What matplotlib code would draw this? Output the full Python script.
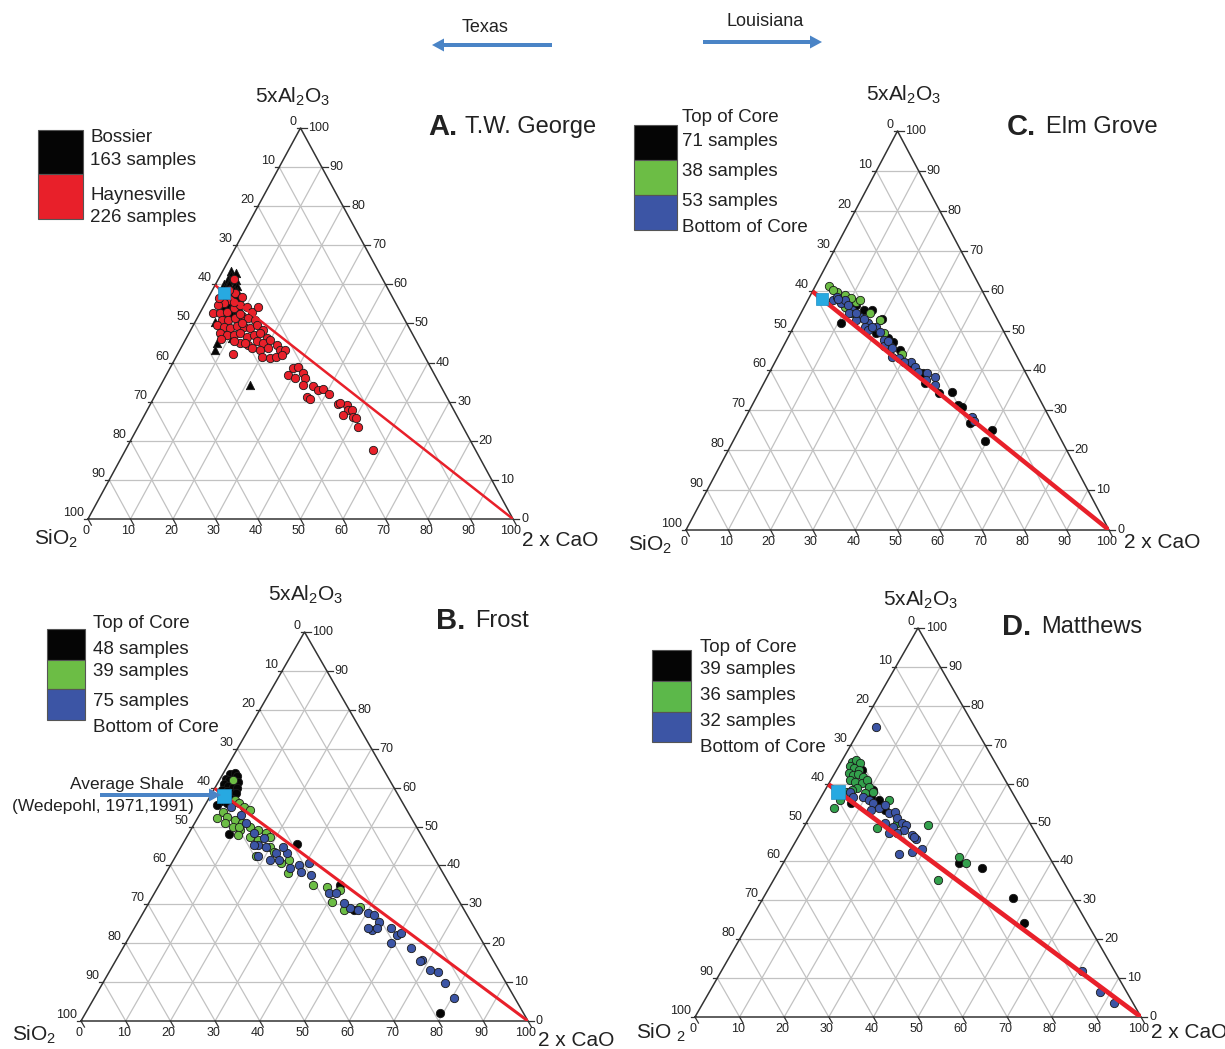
import numpy as np
import matplotlib.pyplot as plt
from matplotlib.patches import Rectangle, FancyArrow

plt.rcParams['font.family'] = ['Liberation Sans', 'DejaVu Sans']
plt.rcParams['mathtext.default'] = 'regular'

# every point is (2xCaO, 5xAl2O3) in normalised percent, SiO2 is the rest
avg_shale = (3.2, 57.8)
mix_line_cao = [0, 100]
mix_line_al = [59.8, 0]

# A. T.W. George
tw_bossier = [(2.0, 63.5), (2.5, 62.5), (3.5, 62.8), (2.2, 61.5), (3.0, 61.0), (4.2, 61.2), (2.0, 60.2),
              (3.2, 60.0), (4.5, 60.0), (5.2, 59.5), (2.6, 59.0), (3.8, 58.8), (5.0, 58.5), (6.0, 58.3),
              (3.0, 57.8), (4.4, 57.5), (5.6, 57.2), (6.8, 57.0), (3.5, 56.5), (5.0, 56.2), (6.2, 56.0),
              (7.4, 55.8), (4.2, 55.3), (5.8, 55.0), (7.0, 54.8), (8.0, 54.6), (5.0, 54.2), (6.6, 53.8),
              (7.8, 53.5), (8.8, 53.2), (6.0, 53.0), (7.4, 52.6), (8.6, 52.3), (9.5, 52.0), (4.6, 50.5),
              (7.8, 44.9), (8.3, 43.2), (10.7, 46.2), (21.0, 34.3)]
tw_haynesville = [(3.8, 61.3), (5.6, 57.9), (7.7, 56.9), (5.4, 56.0), (4.3, 55.2), (3.3, 54.7), (3.2, 52.6),
                  (4.8, 52.6), (6.1, 53.0), (7.3, 53.9), (8.4, 54.7), (10.2, 54.3), (12.0, 53.0), (13.0, 54.1),
                  (6.0, 50.9), (7.6, 50.9), (8.9, 51.3), (10.3, 51.8), (12.1, 51.3), (13.9, 50.9), (5.5, 49.6),
                  (7.3, 49.2), (9.0, 48.8), (10.3, 49.4), (12.0, 49.2), (13.7, 48.8), (14.9, 49.6), (17.1, 48.3),
                  (7.3, 47.5), (9.1, 47.1), (10.7, 47.1), (12.0, 47.5), (14.0, 46.6), (15.4, 47.1), (16.7, 47.5),
                  (18.9, 46.2), (13.3, 44.9), (15.5, 44.5), (17.0, 45.4), (18.8, 44.9), (19.9, 45.8), (22.2, 44.5),
                  (16.7, 43.7), (18.9, 43.2), (20.6, 43.7), (23.6, 43.2), (24.7, 43.2), (20.1, 41.5), (22.3, 41.1),
                  (23.6, 41.5), (24.6, 41.9), (13.1, 42.2), (4.0, 58.5), (6.5, 55.5), (9.5, 52.5), (11.2, 50.0),
                  (8.2, 46.0), (11.5, 45.5), (14.5, 45.0), (2.5, 56.5), (3.0, 58.0),
                  (28.7, 36.8), (29.1, 38.5), (30.0, 39.0), (32.0, 37.3), (30.7, 36.0), (33.1, 36.0), (33.5, 34.3),
                  (36.1, 33.9), (37.7, 33.0), (38.8, 33.2), (40.6, 32.0), (35.8, 31.3), (36.9, 30.6), (44.2, 29.4),
                  (46.3, 29.2), (47.3, 27.9), (46.8, 26.6), (48.1, 27.9), (49.3, 26.2), (51.8, 23.6), (58.2, 17.6),
                  (44.5, 29.6), (50.1, 25.8)]

# C. Elm Grove
eg_top = [(10.7, 51.8), (14.6, 55.1), (19.5, 52.6), (20.3, 49.3), (23.7, 48.0), (31.4, 41.8), (36.4, 39.3),
          (38.1, 36.8), (45.6, 34.7), (48.7, 31.3), (49.8, 30.9), (53.7, 26.7), (59.4, 22.4), (59.9, 25.1),
          (42.6, 34.3), (19.8, 53.0), (16.4, 55.1), (25.5, 47.0), (28.0, 45.0), (33.0, 41.0), (12.0, 56.5),
          (9.0, 57.5)]
eg_mid = [(3.2, 61.2), (5.8, 59.7), (8.1, 58.9), (11.7, 57.2), (12.4, 57.6), (9.5, 56.0), (22.1, 49.3),
          (28.9, 44.1), (12.2, 54.3), (16.4, 54.3), (4.7, 60.1), (9.9, 58.1), (19.5, 52.6)]
eg_bottom = [(5.9, 57.6), (8.2, 56.8), (8.7, 57.6), (11.8, 55.1), (14.5, 53.5), (17.2, 51.8), (16.7, 51.0),
             (22.9, 47.6), (25.2, 46.0), (26.9, 43.4), (28.9, 43.0), (32.1, 42.2), (33.7, 40.9), (37.3, 39.3),
             (39.6, 38.4), (40.6, 36.3), (53.4, 28.4), (54.4, 27.2), (19.4, 51.0), (23.8, 46.0), (6.4, 58.5),
             (11.3, 54.3), (14.0, 52.6), (18.0, 50.1), (7.0, 58.0), (10.0, 56.5), (13.0, 54.5), (15.5, 53.0),
             (18.5, 51.0), (21.0, 49.5), (24.0, 47.3), (26.0, 45.5), (30.5, 42.0), (35.0, 39.5), (38.0, 37.5)]

# B. Frost
fr_top = [(1.5, 63.5), (2.5, 63.8), (3.5, 63.0), (1.2, 62.3), (2.2, 62.0), (3.3, 61.8), (4.3, 61.5),
          (1.5, 60.8), (2.6, 60.5), (3.8, 60.2), (4.8, 60.0), (2.0, 59.3), (3.2, 59.0), (4.5, 58.7),
          (5.5, 58.5), (2.5, 57.8), (4.0, 57.5), (5.2, 57.0), (3.0, 56.5), (4.6, 56.0), (2.7, 55.5),
          (8.9, 48.2), (25.6, 45.5), (40.5, 35.0), (46.8, 28.5), (79.3, 2.0)]
fr_mid = [(3.0, 62.0), (6.0, 56.8), (7.3, 56.0), (9.0, 55.1), (10.8, 54.2), (4.4, 52.1), (4.8, 53.8),
          (6.4, 52.5), (8.5, 51.7), (10.7, 50.8), (12.9, 50.0), (15.1, 49.1), (17.3, 48.3), (6.8, 50.8),
          (9.0, 50.0), (11.1, 49.1), (14.2, 47.4), (16.4, 46.5), (18.6, 47.4), (19.8, 44.8), (21.4, 43.5),
          (10.3, 50.0), (18.1, 42.3), (25.9, 41.4), (27.2, 38.0), (34.4, 35.0), (37.7, 34.5), (41.2, 33.7),
          (40.9, 30.7), (44.6, 28.5), (47.7, 29.4), (24.6, 40.5), (11.3, 47.8)]
fr_bottom = [(6.0, 55.1), (9.2, 53.0), (11.6, 50.8), (14.6, 48.3), (17.0, 45.3), (19.0, 44.8), (22.0, 43.1),
             (23.7, 41.4), (24.6, 43.1), (27.0, 39.3), (28.8, 40.1), (30.7, 40.5), (30.1, 38.4), (32.7, 37.5),
             (39.0, 32.8), (40.7, 32.8), (45.7, 29.0), (47.7, 28.5), (50.3, 27.7), (51.8, 27.3), (54.0, 25.5),
             (53.3, 23.4), (54.4, 23.8), (57.5, 23.8), (59.6, 22.1), (60.3, 22.5), (59.4, 20.0), (64.4, 18.7),
             (68.5, 15.7), (68.3, 15.3), (71.6, 13.1), (73.5, 12.7), (76.6, 9.7), (80.5, 5.8), (21.6, 41.4),
             (18.5, 42.3), (22.9, 44.8), (16.1, 45.3), (17.5, 47.0), (43.7, 30.3), (52.2, 23.8)]

# D. Matthews
mt_top = [(3.8, 65.2), (5.6, 63.5), (8.6, 60.1), (10.8, 58.4), (13.4, 55.8), (11.2, 56.6), (7.6, 54.9),
          (39.5, 39.5), (45.1, 38.4), (56.0, 30.5), (61.7, 24.1), (16.0, 53.2)]
mt_mid = [(2.3, 65.6), (3.0, 66.1), (4.3, 65.2), (2.5, 64.4), (3.8, 63.9), (5.1, 63.5), (3.2, 62.6),
          (4.4, 62.2), (5.4, 62.5), (6.8, 61.8), (4.2, 60.9), (5.7, 60.5), (7.3, 60.1), (8.2, 60.9),
          (9.5, 59.2), (7.0, 58.8), (5.9, 58.4), (4.8, 57.9), (9.4, 57.5), (11.0, 57.9), (4.6, 55.8),
          (4.3, 53.6), (27.5, 49.4), (16.6, 48.5), (38.7, 41.1), (41.0, 39.5), (36.8, 35.2), (20.3, 49.8),
          (15.5, 55.8)]
mt_bottom = [(3.3, 74.6), (5.7, 57.9), (7.2, 56.6), (9.4, 56.6), (11.2, 55.8), (12.5, 54.9), (14.4, 53.6),
             (15.3, 54.5), (17.3, 52.4), (18.4, 52.8), (19.7, 51.1), (21.6, 49.8), (22.7, 49.4), (22.9, 48.1),
             (19.8, 47.2), (25.3, 46.8), (26.7, 45.7), (26.0, 46.4), (29.3, 43.1), (27.6, 42.3), (24.7, 41.9),
             (17.7, 49.8), (19.9, 48.9), (81.0, 11.7), (87.5, 6.5), (92.0, 3.7), (12.9, 53.2), (21.6, 47.2)]

BLACK, RED, GREEN, BLUE, CYAN = '#050505', '#e8202a', '#6cbd45', '#3c55a5', '#27a9e1'
W, H = 1225, 1049
fig = plt.figure(figsize=(W / 100, H / 100), dpi=100)


def to_xy(cao, al):
    cao = np.asarray(cao, float)
    al = np.asarray(al, float)
    return cao / 100 + al / 200, al / 100


def ftext(x, y, s, **kw):
    fig.text(x / W, 1 - y / H, s, **kw)


def ternary_axes(bl, br, top):
    wpx = br[0] - bl[0]
    hpx = bl[1] - top[1]
    ax = fig.add_axes([bl[0] / W, 1 - bl[1] / H, wpx / W, hpx / H])
    ax.set_xlim(0, 1)
    ax.set_ylim(0, 1)
    ax.axis('off')
    kx, ky = 1.0 / wpx, 1.0 / hpx
    for v in range(10, 100, 10):
        for a, b in [((0, v), (100 - v, v)), ((v, 0), (v, 100 - v)), ((100 - v, 0), (0, 100 - v))]:
            x, y = to_xy([a[0], b[0]], [a[1], b[1]])
            ax.plot(x, y, color='#c2c2c2', lw=0.9, zorder=1)
    x, y = to_xy([0, 100, 0, 0], [0, 0, 100, 0])
    ax.plot(x, y, color='#333333', lw=1.1, zorder=2, clip_on=False)
    d = np.array([0.5 * wpx, -hpx])
    d = d / np.hypot(*d) * 7
    tk = dict(color='#333333', lw=0.9, clip_on=False, zorder=2)
    lab = dict(textcoords='offset pixels', fontsize=9, color='#222222', annotation_clip=False)
    for v in range(0, 101, 10):
        x, y = to_xy(v, 0)
        ax.plot([x, x + d[0] * kx], [y, y + d[1] * ky], **tk)
        ax.annotate(str(v), (x, y), xytext=(-2, -6), ha='center', va='top', **lab)
        x, y = to_xy(0, 100 - v)
        ax.plot([x - 4 * kx, x], [y, y], **tk)
        ax.annotate(str(v), (x, y), xytext=(-4, 6), ha='right', va='center', **lab)
        x, y = to_xy(100 - v, v)
        ax.plot([x, x + 6 * kx], [y, y], **tk)
        ax.annotate(str(v), (x, y), xytext=(8, 0), ha='left', va='center', **lab)
    return ax


def scatter(ax, pts, color, marker='o', s=36):
    pts = np.array(pts)
    x, y = to_xy(pts[:, 0], pts[:, 1])
    ax.scatter(x, y, s=s, marker=marker, c=color, edgecolors='#1a1a1a', linewidths=0.6,
               zorder=3, clip_on=False)


def finish(ax, line_w, sq):
    x, y = to_xy(mix_line_cao, mix_line_al)
    ax.plot(x, y, color=RED, lw=line_w, zorder=4, solid_capstyle='butt')
    x, y = to_xy(*avg_shale)
    ax.plot(x, y, 's', ms=sq, color=CYAN, mec='#1f8fc4', mew=0.5, zorder=5, clip_on=False)


def legend_boxes(x0, x1, ys, colors):
    for i, c in enumerate(colors):
        fig.add_artist(Rectangle((x0 / W, 1 - ys[i + 1] / H), (x1 - x0) / W, (ys[i + 1] - ys[i]) / H,
                                 transform=fig.transFigure, facecolor=c, edgecolor='#555555', lw=0.8))


def titles(tx, ty, letter, name, nx, al_xy, si_xy, ca_xy, si_txt='SiO$_2$'):
    ftext(tx, ty, letter, fontsize=21, fontweight='bold', ha='left', va='center', color='#222222')
    ftext(nx, ty, name, fontsize=17, ha='left', va='center', color='#222222')
    ftext(*al_xy, '5xAl$_2$O$_3$', fontsize=15, ha='center', va='center', color='#222222')
    ftext(*si_xy, si_txt, fontsize=15, ha='center', va='center', color='#222222')
    ftext(*ca_xy, '2 x CaO', fontsize=15, ha='center', va='center', color='#222222')


def h_arrow(x0, x1, y):
    fig.add_artist(FancyArrow(x0 / W, 1 - y / H, (x1 - x0) / W, 0, width=4 / H, head_width=13 / H,
                              head_length=12 / W, length_includes_head=True, transform=fig.transFigure,
                              color='#4a84c6', lw=0))


LEG = 13.5

# ---- A. T.W. George
ax = ternary_axes((88, 519), (513, 519), (299, 128))
scatter(ax, tw_bossier, BLACK, marker='^', s=36)
scatter(ax, tw_haynesville, RED)
finish(ax, 1.8, 8)
titles(428, 127, 'A.', 'T.W. George', 465, (293, 97), (56, 539), (560, 541))
legend_boxes(38, 83, [130, 174, 219], [BLACK, RED])
for t, y in [('Bossier', 137), ('163 samples', 160), ('Haynesville', 195), ('226 samples', 217)]:
    ftext(90, y, t, fontsize=LEG, ha='left', va='center', color='#222222')

# ---- C. Elm Grove
ax = ternary_axes((686, 530), (1109, 530), (898, 131))
scatter(ax, eg_top, BLACK)
scatter(ax, eg_mid, GREEN)
scatter(ax, eg_bottom, BLUE)
finish(ax, 3.2, 9)
titles(1007, 127, 'C.', 'Elm Grove', 1046, (904, 95), (650, 545), (1162, 543))
legend_boxes(634, 677, [125, 160, 195, 230], [BLACK, GREEN, BLUE])
for t, y in [('Top of Core', 117), ('71 samples', 141), ('38 samples', 172), ('53 samples', 202),
             ('Bottom of Core', 227)]:
    ftext(682, y, t, fontsize=LEG, ha='left', va='center', color='#222222')

# ---- B. Frost
ax = ternary_axes((81, 1021), (528, 1021), (304, 632))
scatter(ax, fr_top, BLACK)
scatter(ax, fr_mid, GREEN)
scatter(ax, fr_bottom, BLUE)
finish(ax, 2.2, 9.5)
titles(436, 621, 'B.', 'Frost', 475, (306, 595), (34, 1035), (576, 1040))
legend_boxes(47, 85, [629, 660, 689, 720], [BLACK, GREEN, BLUE])
for t, y in [('Top of Core', 624), ('48 samples', 649), ('39 samples', 671), ('75 samples', 701),
             ('Bottom of Core', 727)]:
    ftext(93, y, t, fontsize=LEG, ha='left', va='center', color='#222222')
ftext(127, 785, 'Average Shale', fontsize=12.5, ha='center', va='center', color='#222222')
ftext(103, 807, '(Wedepohl, 1971,1991)', fontsize=12.5, ha='center', va='center', color='#222222')
h_arrow(100, 221, 795)

# ---- D. Matthews
ax = ternary_axes((695, 1017), (1141, 1017), (917, 628))
scatter(ax, mt_top, BLACK)
scatter(ax, mt_mid, '#33a04c')
scatter(ax, mt_bottom, BLUE)
finish(ax, 3.4, 9.5)
titles(1002, 627, 'D.', 'Matthews', 1041, (921, 600), (661, 1033), (1189, 1033), si_txt='SiO $_2$')
legend_boxes(652, 691, [650, 681, 712, 742], [BLACK, '#5cb84a', BLUE])
for t, y in [('Top of Core', 648), ('39 samples', 670), ('36 samples', 696), ('32 samples', 722),
             ('Bottom of Core', 747)]:
    ftext(700, y, t, fontsize=LEG, ha='left', va='center', color='#222222')

# ---- header
ftext(485, 27, 'Texas', fontsize=13, ha='center', va='center', color='#222222')
ftext(765, 22, 'Louisiana', fontsize=13, ha='center', va='center', color='#222222')
h_arrow(552, 432, 45)
h_arrow(703, 822, 42)

fig.savefig('out.png', dpi=100)
